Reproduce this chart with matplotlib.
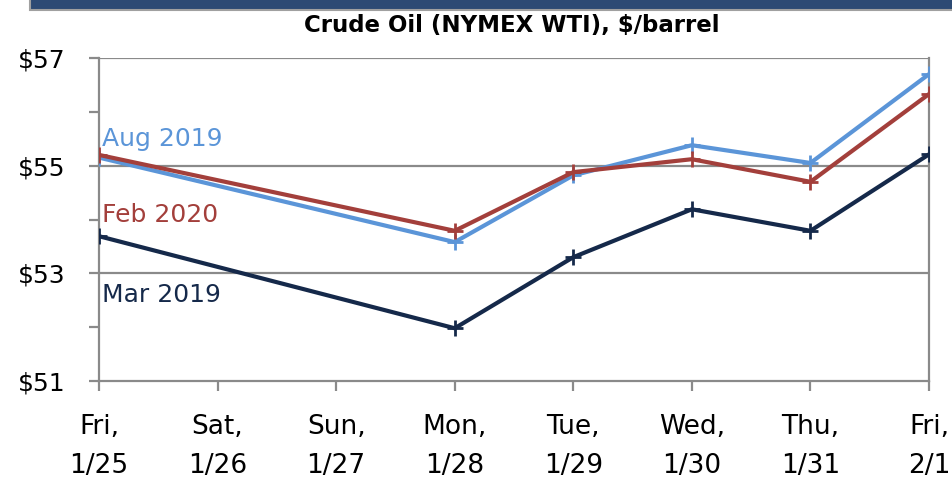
import numpy as np
import matplotlib.pyplot as plt
from matplotlib.patches import Rectangle

days = ['Fri,\n1/25', 'Sat,\n1/26', 'Sun,\n1/27', 'Mon,\n1/28',
        'Tue,\n1/29', 'Wed,\n1/30', 'Thu,\n1/31', 'Fri,\n2/1']
aug_2019 = [55.15, None, None, 53.58, 54.82, 55.38, 55.05, 56.70]
feb_2020 = [55.20, None, None, 53.79, 54.88, 55.12, 54.70, 56.33]
mar_2019 = [53.69, None, None, 51.98, 53.30, 54.19, 53.79, 55.21]

series = [
    ('Aug 2019', aug_2019, '#5b95d8', 146),
    ('Feb 2020', feb_2020, '#a33f3b', 222),
    ('Mar 2019', mar_2019, '#15294a', 302),
]

fig = plt.figure(figsize=(9.52, 4.8), dpi=100)
ax = fig.add_axes([99 / 952, 1 - 381 / 480, 830 / 952, 323 / 480])

# dark band at the top of the picture
fig.patches.append(Rectangle((30 / 952, 1 - 10 / 480), 1, 12 / 480,
                             transform=fig.transFigure, facecolor='#2d4a74',
                             edgecolor='#a0a0a0', linewidth=1.5))

grid_c = '#8a8a8a'
for v in [53, 55, 57]:
    ax.axhline(v, color=grid_c, linewidth=1.6, zorder=1)

for name, vals, col, ty in series:
    xs = [i for i, v in enumerate(vals) if v is not None]
    ys = [v for v in vals if v is not None]
    ax.plot(xs, ys, color=col, linewidth=3, marker='+', markersize=11,
            markeredgewidth=2, zorder=3)
    fig.text(102 / 952, 1 - ty / 480, name, color=col, fontsize=18,
             va='baseline', ha='left')

ax.set_xlim(0, 7)
ax.set_ylim(51, 57)
ax.set_xticks(range(len(days)))
ax.set_xticklabels(days, fontsize=19, linespacing=1.65)
ax.set_yticks(range(51, 58))
ax.set_yticklabels(['$51', '', '$53', '', '$55', '', '$57'], fontsize=18)

for s in ['left', 'bottom', 'right']:
    ax.spines[s].set_color(grid_c)
    ax.spines[s].set_linewidth(1.6)
ax.spines['top'].set_visible(False)
ax.tick_params(axis='both', direction='out', length=7, width=1.6,
               color=grid_c)
ax.tick_params(axis='y', pad=17)
ax.tick_params(axis='x', pad=17)

fig.text(512 / 952, 1 - 32 / 480, 'Crude Oil (NYMEX WTI), $/barrel',
         fontsize=16.5, fontweight='bold', ha='center', va='baseline')

fig.savefig('out.png', dpi=100)
